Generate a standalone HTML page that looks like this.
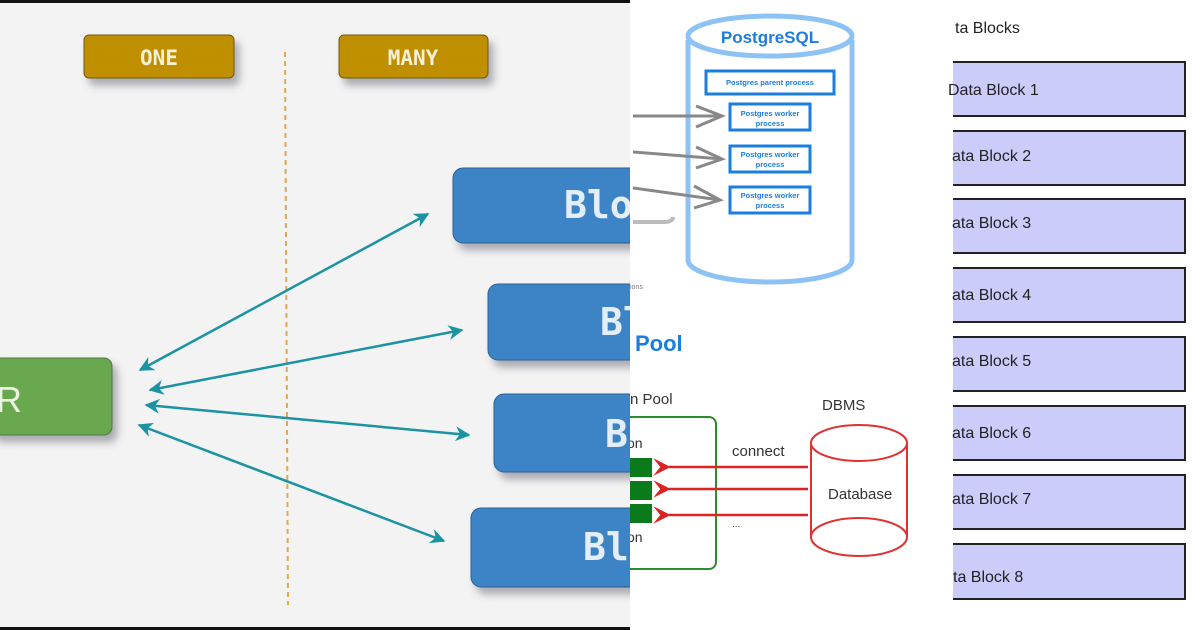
<!DOCTYPE html>
<html><head><meta charset="utf-8"><style>
html,body{margin:0;padding:0;width:1200px;height:630px;overflow:hidden;background:#fff}
</style></head><body>
<svg width="1200" height="630" viewBox="0 0 1200 630" xmlns="http://www.w3.org/2000/svg">
<defs>
<clipPath id="lp"><rect x="0" y="0" width="630" height="630"/></clipPath>
<clipPath id="mp"><rect x="630" y="0" width="310" height="630"/></clipPath>
<filter id="sh" x="-20%" y="-20%" width="150%" height="160%"><feDropShadow dx="5" dy="7" stdDeviation="4" flood-color="#556" flood-opacity="0.45"/></filter>
<marker id="ta" viewBox="0 0 10 10" refX="9" refY="5" markerWidth="6" markerHeight="6" orient="auto-start-reverse"><path d="M0,0 L10,5 L0,10 L3,5 z" fill="#1b93a3"/></marker>
<marker id="ra" viewBox="0 0 10 10" refX="1" refY="5" markerWidth="9" markerHeight="7" orient="auto"><path d="M10,0 L0,5 L10,10 L6,5 z" fill="#d22"/></marker>
</defs>
<!-- middle panel -->
<g clip-path="url(#mp)">
<path d="M688,40 L688,260 A82,22 0 0 0 852,260 L852,40" fill="#fff" stroke="#8dc3f4" stroke-width="5"/>
<ellipse cx="770" cy="36" rx="82" ry="20" fill="#fff" stroke="#8dc3f4" stroke-width="5"/>
<text x="770" y="43" text-anchor="middle" font-family="Liberation Sans, sans-serif" font-weight="bold" font-size="17" fill="#1a7ee0">PostgreSQL</text>
<g fill="#fff" stroke="#1a7ee0" stroke-width="3">
<rect x="706" y="71" width="128" height="23"/>
<rect x="730" y="104" width="80" height="26"/>
<rect x="730" y="146" width="80" height="26"/>
<rect x="730" y="187" width="80" height="26"/>
</g>
<g font-family="Liberation Sans, sans-serif" font-weight="bold" font-size="7.5" fill="#1a7ee0" text-anchor="middle">
<text x="770" y="85">Postgres parent process</text>
<text x="770" y="116">Postgres worker</text><text x="770" y="126">process</text>
<text x="770" y="157">Postgres worker</text><text x="770" y="167">process</text>
<text x="770" y="198">Postgres worker</text><text x="770" y="208">process</text>
</g>
<g stroke="#888" stroke-width="3" fill="none">
<line x1="633" y1="116" x2="722" y2="116"/><path d="M696,106 L722,116 L696,127"/>
<line x1="633" y1="152" x2="722" y2="159"/><path d="M696,147 L722,159 L696,168"/>
<line x1="633" y1="188" x2="720" y2="200"/><path d="M694,186 L720,200 L694,208"/>
<path d="M633,222 L663,222 Q673,222 673,217" stroke="#bbb" stroke-width="4"/>
</g>
<text x="630" y="289" font-family="Liberation Sans, sans-serif" font-size="7" fill="#777">ions</text>
<text x="635" y="351" font-family="Liberation Sans, sans-serif" font-weight="bold" font-size="22" fill="#1a7ee0">Pool</text>
<text x="630" y="404" font-family="Liberation Sans, sans-serif" font-size="15" fill="#333">n Pool</text>
<rect x="600" y="417" width="116" height="152" rx="7" fill="none" stroke="#2e8b2e" stroke-width="2"/>
<text x="627" y="448" font-family="Liberation Sans, sans-serif" font-size="14" fill="#333">on</text>
<text x="627" y="542" font-family="Liberation Sans, sans-serif" font-size="14" fill="#333">on</text>
<g fill="#0a7a1a"><rect x="630" y="458" width="22" height="19"/><rect x="630" y="481" width="22" height="19"/><rect x="630" y="504" width="22" height="19"/></g>
<g stroke="#d22" stroke-width="2.5" marker-end="url(#ra)">
<line x1="808" y1="467" x2="669" y2="467"/>
<line x1="808" y1="489" x2="669" y2="489"/>
<line x1="808" y1="515" x2="669" y2="515"/>
</g>
<text x="732" y="456" font-family="Liberation Sans, sans-serif" font-size="15" fill="#333">connect</text>
<text x="732" y="527" font-family="Liberation Sans, sans-serif" font-size="10" fill="#333">...</text>
<text x="822" y="410" font-family="Liberation Sans, sans-serif" font-size="15" fill="#333">DBMS</text>
<path d="M811,443 L811,537 A48,19 0 0 0 907,537 L907,443" fill="#fff" stroke="#d33" stroke-width="2"/>
<ellipse cx="859" cy="443" rx="48" ry="18" fill="#fff" stroke="#d33" stroke-width="2"/>
<path d="M811,537 A48,19 0 0 1 907,537" fill="none" stroke="#d33" stroke-width="2"/>
<text x="828" y="499" font-family="Liberation Sans, sans-serif" font-size="15" fill="#333">Database</text>
</g>
<!-- left panel -->
<g clip-path="url(#lp)">
<rect x="0" y="0" width="630" height="630" fill="#f3f3f3"/>
<rect x="0" y="0" width="630" height="3" fill="#111"/>
<rect x="0" y="627" width="630" height="3" fill="#111"/>
<rect x="84" y="35" width="150" height="43" rx="5" fill="#bf8f00" stroke="#6f5a10" filter="url(#sh)"/>
<text x="159" y="65" text-anchor="middle" font-family="DejaVu Sans Mono, monospace" font-weight="bold" font-size="21" fill="#f5f0d8">ONE</text>
<rect x="339" y="35" width="149" height="43" rx="5" fill="#bf8f00" stroke="#6f5a10" filter="url(#sh)"/>
<text x="413" y="65" text-anchor="middle" font-family="DejaVu Sans Mono, monospace" font-weight="bold" font-size="21" fill="#f5f0d8">MANY</text>
<line x1="285" y1="52" x2="288" y2="605" stroke="#e0a850" stroke-width="2" stroke-dasharray="5,4"/>
<rect x="-10" y="358" width="122" height="77" rx="8" fill="#69a84f" stroke="#4e7a3a" filter="url(#sh)"/>
<text x="-4" y="412" font-family="Liberation Sans, sans-serif" font-size="36" fill="#e9f5e0">R</text>
<g filter="url(#sh)" fill="#3d84c6" stroke="#2d5f90">
<rect x="453" y="168" width="200" height="75" rx="10"/>
<rect x="488" y="284" width="170" height="76" rx="10"/>
<rect x="494" y="394" width="160" height="78" rx="10"/>
<rect x="471" y="508" width="180" height="79" rx="10"/>
</g>
<g font-family="DejaVu Sans Mono, monospace" font-weight="bold" font-size="38" fill="#e4eef8">
<text x="564" y="218">Blo</text>
<text x="600" y="335">Bl</text>
<text x="605" y="447">B</text>
<text x="583" y="560">Bl</text>
</g>
<g stroke="#1b93a3" stroke-width="2.5" fill="none" marker-start="url(#ta)" marker-end="url(#ta)">
<line x1="140" y1="370" x2="428" y2="214"/>
<line x1="150" y1="390" x2="462" y2="330"/>
<line x1="146" y1="405" x2="469" y2="435"/>
<line x1="139" y1="425" x2="444" y2="541"/>
</g>
</g>
<!-- right panel -->
<text x="955" y="33" font-family="Liberation Sans, sans-serif" font-size="16" fill="#222">ta Blocks</text>
<g fill="#ccccfa" stroke="#222" stroke-width="2">
<rect x="940" y="62" width="245" height="54"/>
<rect x="940" y="131" width="245" height="54"/>
<rect x="940" y="199" width="245" height="54"/>
<rect x="940" y="268" width="245" height="54"/>
<rect x="940" y="337" width="245" height="54"/>
<rect x="940" y="406" width="245" height="54"/>
<rect x="940" y="475" width="245" height="54"/>
<rect x="940" y="544" width="245" height="55"/>
</g>
<rect x="936" y="0" width="17" height="630" fill="#fff"/>
<g font-family="Liberation Sans, sans-serif" font-size="16" fill="#222">
<text x="948" y="95">Data Block 1</text>
<text x="952" y="161">ata Block 2</text>
<text x="952" y="228">ata Block 3</text>
<text x="952" y="300">ata Block 4</text>
<text x="952" y="366">ata Block 5</text>
<text x="952" y="438">ata Block 6</text>
<text x="952" y="504">ata Block 7</text>
<text x="953" y="582">ta Block 8</text>
</g>
</svg>
</body></html>
